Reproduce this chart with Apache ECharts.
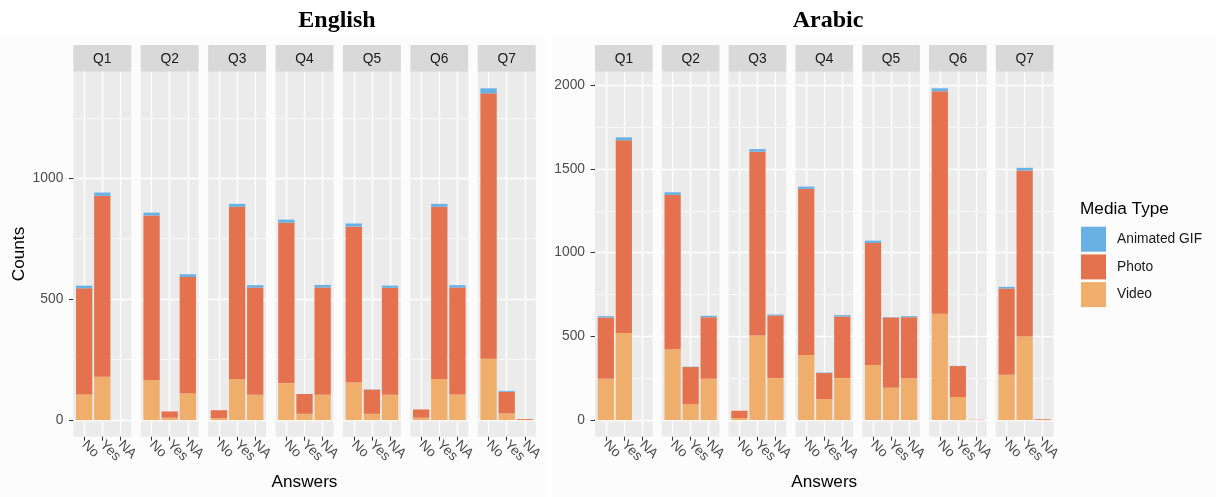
<!DOCTYPE html>
<html>
<head>
<meta charset="utf-8">
<script src="https://cdn.jsdelivr.net/npm/echarts@6/dist/echarts.min.js"></script>
<style>
  html, body { margin: 0; padding: 0; background: #ffffff; }
  #chart { width: 1216px; height: 497px; }
</style>
</head>
<body>
<div id="chart"></div>
<script>
// ---- data ----
const questions = ['Q1', 'Q2', 'Q3', 'Q4', 'Q5', 'Q6', 'Q7'];
const answers = ['No', 'Yes', 'NA'];
const mediaTypes = ['Animated GIF', 'Photo', 'Video'];

// counts per question, ordered No / Yes / NA
const englishVideo = [[106, 179, 0], [166, 10, 110], [8, 170, 105], [153, 26, 105], [155, 26, 105], [10, 170, 106], [254, 28, 0]];
const englishPhoto = [[439, 748, 0], [680, 26, 482], [33, 712, 443], [663, 82, 443], [645, 100, 442], [34, 712, 442], [1097, 89, 4]];
const englishGif   = [[11, 14, 0], [12, 0, 11], [0, 12, 10], [13, 0, 11], [13, 1, 9], [0, 12, 10], [21, 4, 0]];

const arabicVideo = [[247, 521, 0], [423, 96, 247], [12, 505, 251], [389, 126, 251], [329, 193, 250], [635, 138, 0], [271, 499, 0]];
const arabicPhoto = [[366, 1150, 0], [922, 221, 368], [44, 1098, 374], [992, 155, 368], [729, 420, 365], [1329, 185, 2], [515, 992, 5]];
const arabicGif   = [[8, 18, 0], [16, 2, 8], [0, 16, 6], [14, 3, 8], [14, 2, 6], [18, 1, 0], [10, 16, 0]];

const englishTicks = [0, 500, 1000];
const arabicTicks = [0, 500, 1000, 1500, 2000];

// ---- styling / layout ----
const COLORS = { 'Animated GIF': '#6AB1E3', 'Photo': '#E5724E', 'Video': '#EFAE6B' };
const SANS = 'Liberation Sans, Arial, Helvetica, sans-serif';
const SERIF = 'Liberation Serif, Times New Roman, serif';
const PANEL_TOP = 71.7, PANEL_BOTTOM = 436.7, STRIP_TOP = 45;
const PANEL_H = PANEL_BOTTOM - PANEL_TOP;
const SLOT_COUNT = 17;              // 3.2 discrete units split into 0.2 steps (0..16)
const slotOf = k => 3 + 5 * k;      // discrete position k+1 sits 0.6 units in from the edge

const blocks = [
  { title: 'English', video: englishVideo, photo: englishPhoto, gif: englishGif, ticks: englishTicks,
    left: 73.3, step: 67.4, width: 58, titleX: 337, bg: [0, 37, 547, 460] },
  { title: 'Arabic', video: arabicVideo, photo: arabicPhoto, gif: arabicGif, ticks: arabicTicks,
    left: 595, step: 66.8, width: 57.7, titleX: 828, bg: [552, 37, 664, 460] }
];

const grid = [], xAxis = [], yAxis = [], series = [], graphic = [];

const slotLabels = [];
for (let i = 0; i < SLOT_COUNT; i++) slotLabels.push('');
answers.forEach((a, k) => { slotLabels[slotOf(k)] = a; });
const isAnswerSlot = (i, v) => (typeof i === 'number' ? slotLabels[i] !== '' : i !== '');

blocks.forEach((b) => {
  // plot backdrop
  graphic.push({ type: 'rect', z: -100, silent: true,
    shape: { x: b.bg[0], y: b.bg[1], width: b.bg[2], height: b.bg[3] }, style: { fill: '#FCFCFC' } });

  // y range: stacked maximum expanded by 5% on both ends
  let maxTotal = 0;
  questions.forEach((q, qi) => answers.forEach((a, k) => {
    maxTotal = Math.max(maxTotal, b.video[qi][k] + b.photo[qi][k] + b.gif[qi][k]);
  }));
  const yMin = -0.05 * maxTotal, yMax = 1.05 * maxTotal;
  const major = b.ticks[1] - b.ticks[0];
  const scale = PANEL_H / (yMax - yMin);

  questions.forEach((q, qi) => {
    const g = grid.length;
    const left = b.left + qi * b.step;
    grid.push({ left: left, top: PANEL_TOP, width: b.width, height: PANEL_H,
      show: true, backgroundColor: '#EBEBEB', borderWidth: 0 });

    xAxis.push({
      type: 'category', gridIndex: g, data: slotLabels, boundaryGap: false,
      axisLine: { show: false, onZero: false },
      axisTick: { show: true, interval: isAnswerSlot, length: 4, lineStyle: { color: '#333333', width: 1 } },
      axisLabel: { interval: 0, hideOverlap: false, showMinLabel: true, showMaxLabel: true,
        rotate: -45, margin: 6, color: '#4D4D4D', fontSize: 13.8, fontFamily: SANS },
      splitLine: { show: true, interval: 0,
        lineStyle: { color: slotLabels.map(s => s ? '#FFFFFF' : 'rgba(0,0,0,0)'), width: 1.4 } }
    });

    const yBase = { type: 'value', gridIndex: g, min: yMin, max: yMax,
      axisLine: { show: false }, axisTick: { show: false }, axisLabel: { show: false } };
    // minor grid lines
    yAxis.push(Object.assign({}, yBase, { minInterval: major / 2, maxInterval: major / 2,
      splitLine: { show: true, showMinLine: false, showMaxLine: false, lineStyle: { color: '#FFFFFF', width: 0.7 } } }));
    // major grid lines
    const yi = yAxis.length;
    yAxis.push(Object.assign({}, yBase, { minInterval: major, maxInterval: major,
      splitLine: { show: true, showMinLine: false, showMaxLine: false, lineStyle: { color: '#FFFFFF', width: 1.4 } } }));

    const barWidth = 0.9 * b.width / 3.2;
    const stacks = [['Video', b.video], ['Photo', b.photo], ['Animated GIF', b.gif]];
    stacks.forEach(([name, arr]) => {
      const data = slotLabels.map(() => null);
      answers.forEach((a, k) => { data[slotOf(k)] = arr[qi][k]; });
      series.push({ type: 'bar', name: name, xAxisIndex: g, yAxisIndex: yi, stack: 'panel' + g,
        barWidth: barWidth, data: data, itemStyle: { color: COLORS[name] },
        emphasis: { disabled: true }, silent: true });
    });

    // facet strip
    graphic.push({ type: 'rect', silent: true,
      shape: { x: left, y: STRIP_TOP, width: b.width, height: PANEL_TOP - STRIP_TOP },
      style: { fill: '#D9D9D9' } });
    graphic.push({ type: 'text', silent: true, x: left + b.width / 2, y: 58.8,
      style: { text: q, align: 'center', verticalAlign: 'middle', fill: '#1A1A1A',
        font: '13.8px ' + SANS } });
  });

  // y tick labels, on an axis sharing the panels' scale
  const tMin = b.ticks[0], tMax = b.ticks[b.ticks.length - 1];
  const cg = grid.length;
  grid.push({ left: b.left, width: 1, top: PANEL_TOP + (yMax - tMax) * scale,
    height: (tMax - tMin) * scale, show: false });
  xAxis.push({ type: 'value', gridIndex: cg, show: false });
  yAxis.push({ type: 'value', gridIndex: cg, min: tMin, max: tMax, interval: major, position: 'left',
    axisLine: { show: false },
    axisTick: { show: true, length: 4.4, lineStyle: { color: '#333333', width: 1 } },
    axisLabel: { margin: 10, color: '#4D4D4D', fontSize: 13.8, fontFamily: SANS,
      formatter: (v) => String(v) },
    splitLine: { show: false } });

  // block titles
  const lastRight = b.left + 6 * b.step + b.width;
  const mid = (b.left + lastRight) / 2;
  graphic.push({ type: 'text', silent: true, x: b.titleX, y: 20.3,
    style: { text: b.title, align: 'center', verticalAlign: 'middle', fill: '#000000',
      font: 'bold 24px ' + SERIF } });
  graphic.push({ type: 'text', silent: true, x: mid, y: 482.3,
    style: { text: 'Answers', align: 'center', verticalAlign: 'middle', fill: '#000000',
      font: '17.2px ' + SANS } });
});

graphic.push({ type: 'text', silent: true, x: 19, y: 254, rotation: Math.PI / 2,
  style: { text: 'Counts', align: 'center', verticalAlign: 'middle', fill: '#000000', font: '17.2px ' + SANS } });
graphic.push({ type: 'text', silent: true, x: 1080, y: 209.3,
  style: { text: 'Media Type', align: 'left', verticalAlign: 'middle', fill: '#000000', font: '17.2px ' + SANS } });

const option = {
  animation: false,
  grid: grid,
  xAxis: xAxis,
  yAxis: yAxis,
  series: series,
  graphic: graphic,
  legend: {
    data: mediaTypes, orient: 'vertical', left: 1081, top: 226.7, padding: 0,
    itemWidth: 25, itemHeight: 25, itemGap: 2.7, icon: 'rect', selectedMode: false,
    textStyle: { fontSize: 13.8, color: '#1A1A1A', fontFamily: SANS, padding: [0, 0, 0, 6] }
  }
};

const chart = echarts.init(document.getElementById('chart'), null, { renderer: 'canvas' });
chart.setOption(option);
</script>
</body>
</html>
